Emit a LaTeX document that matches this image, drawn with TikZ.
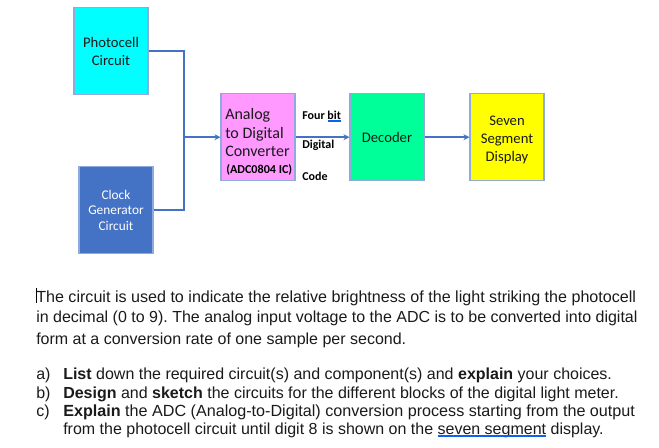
\documentclass[tikz,border=0pt]{standalone}
\usepackage{fontspec}
\setmainfont{Liberation Sans}
\newfontfamily\calibri{Carlito}
\usetikzlibrary{calc, arrows.meta}
\definecolor{wireblue}{HTML}{4472C4}
\definecolor{edgeblue}{HTML}{8FAADC}
\definecolor{spellblue}{HTML}{1060F0}
\definecolor{txtgrey}{HTML}{1A1A1A}
\definecolor{photocyan}{HTML}{00FFFF}
\definecolor{adcpink}{HTML}{FF99FF}
\definecolor{decgreen}{HTML}{00FF99}
\definecolor{ssdyellow}{HTML}{FFFF00}
\tikzstyle{blk}=[draw=edgeblue, line width=0.8pt, minimum width=55.5pt, minimum height=65.5pt, inner sep=0pt, align=center, text=txtgrey, font=\calibri\fontsize{11}{13.5}\selectfont]
\tikzstyle{lbl}=[anchor=base west, inner sep=0pt, font=\calibri\bfseries\fontsize{9}{10}\selectfont]
\tikzstyle{txt}=[anchor=base west, inner sep=0pt, text=txtgrey, font=\frenchspacing\fontsize{12}{14}\selectfont]
\tikzstyle{wire}=[draw=wireblue, line width=1.2pt]
\tikzset{>={Stealth[length=4.5pt,width=4.5pt]}}
\newlength{\spellw}
\newcommand{\spell}[1]{\settowidth{\spellw}{#1}#1\llap{\color{spellblue}\rule[-2pt]{\spellw}{1.1pt}}}

\begin{document}
\begin{tikzpicture}[x=0.75pt, y=-0.75pt]
\useasboundingbox (0,0) rectangle (659,447);
% the blocks
\node[blk, fill=photocyan] (PC) at (111,51) {Photocell\\Circuit};
\node[blk, fill=wireblue, text=white, font=\calibri\fontsize{10}{11.6}\selectfont] (CG) at (116,210) {Clock\\Generator\\Circuit};
\node[blk, fill=adcpink] (ADC) at (258,137.2) {};
\node[blk, fill=decgreen] (DEC) at (387,137.2) {Decoder};
\node[blk, fill=ssdyellow] (SSD) at (507,137.2) {};
% the text of the display
\node[inner sep=0pt, align=center, text=txtgrey, font=\calibri\fontsize{11}{13.5}\selectfont] (SSDa) at (507,139.5) {Seven\\Segment\\Display};
% the text of the converter
\node[anchor=west, inner sep=0pt, text=txtgrey, font=\calibri\fontsize{12}{14.2}\selectfont, align=left] (ADCa) at (225,132.5) {Analog\\to Digital\\Converter};
\node[anchor=west, inner sep=0pt, font=\calibri\bfseries\fontsize{9.1}{10}\selectfont] (ADCb) at (226,170) {(ADC0804 IC)};
% the labels of the code
\node[lbl] (L0) at (302,119) {Four \spell{bit}};
\node[lbl] (L1) at (302,148) {Digital};
\node[lbl] (L2) at (302,180) {Code};
% the connectors
\coordinate (J) at (184,137.2);
\draw[wire] (PC.east) -| (J);
\draw[wire] (CG.east) -| (J);
\draw[wire, ->] (J) -- (ADC.west);
\draw[wire, ->] (ADC.east) -- (DEC.west);
\draw[wire, ->] (DEC.east) -- (SSD.west);
% the question
\draw[black, line width=0.5pt] (36,288) -- (36,303);
\node[txt, font=\frenchspacing\fontsize{12.08}{14}\selectfont] (T0) at (36,302) {The circuit is used to indicate the relative brightness of the light striking the photocell};
\node[txt] (T1) at (36,322.5) {in decimal (0 to 9). The analog input voltage to the ADC is to be converted into digital};
\node[txt] (T2) at (36,344) {form at a conversion rate of one sample per second.};
\node[txt] (A0) at (36,379) {a)};
\node[txt] (A1) at (63,379) {\textbf{List} down the required circuit(s) and component(s) and \textbf{explain} your choices.};
\node[txt] (B0) at (36,398) {b)};
\node[txt] (B1) at (63,398) {\textbf{Design} and \textbf{sketch} the circuits for the different blocks of the digital light meter.};
\node[txt] (C0) at (36,416) {c)};
\node[txt, font=\frenchspacing\fontsize{12.11}{14}\selectfont] (C1) at (63,416) {\textbf{Explain} the ADC (Analog-to-Digital) conversion process starting from the output};
\node[txt] (C2) at (63,434) {from the photocell circuit until digit 8 is shown on the \spell{seven segment} display.};
\end{tikzpicture}
\end{document}
